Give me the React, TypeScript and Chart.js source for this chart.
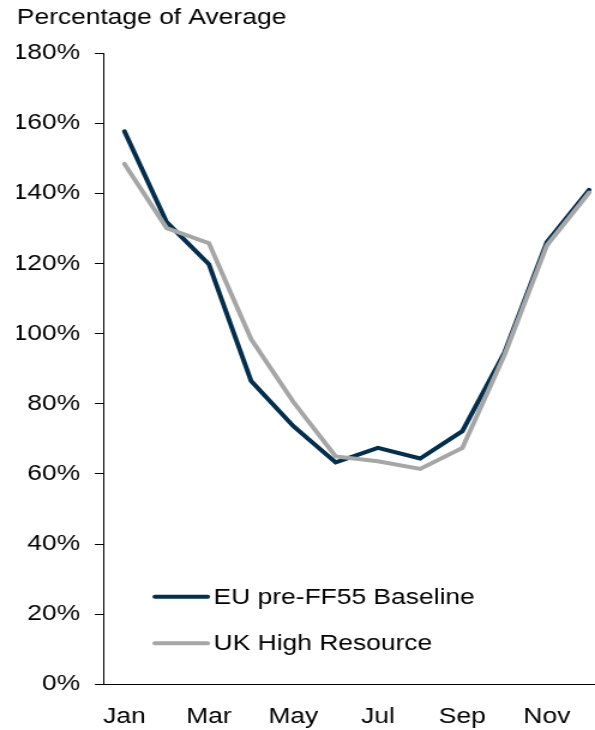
import React, { useEffect, useRef } from 'react';
import { Chart, registerables } from 'chart.js';

Chart.register(...registerables);

// ---- data ----
const months = ['Jan', 'Feb', 'Mar', 'Apr', 'May', 'Jun', 'Jul', 'Aug', 'Sep', 'Oct', 'Nov', 'Dec'];
const labelledMonthIdx = [0, 2, 4, 6, 8, 10];
const euBaseline = [157.7, 131.8, 119.8, 86.5, 73.6, 63.3, 67.4, 64.4, 72.2, 94.7, 126.1, 141.0];
const ukHighResource = [148.4, 130.1, 125.8, 98.4, 80.5, 65.0, 63.6, 61.4, 67.4, 94.0, 125.2, 140.2];
const seriesNames = ['EU pre-FF55 Baseline', 'UK High Resource'];
const yMin = 0;
const yMax = 180;
const yStep = 20;
const titleText = 'Percentage of Average';

// ---- presentation ----
const FONT = '"Liberation Sans", Arial, sans-serif';
const LOGICAL_W = 496;
const DISPLAY_W = 595;
const H = 730;
const DARK = '#032F4D';
const GREY = '#A6A6A6';

const insideLegend = {
  id: 'insideLegend',
  afterDraw(chart: any) {
    const { ctx, chartArea } = chart;
    ctx.save();
    ctx.font = `22px ${FONT}`;
    ctx.textBaseline = 'middle';
    ctx.textAlign = 'left';
    ctx.lineCap = 'round';
    chart.data.datasets.forEach((ds: any, i: number) => {
      const y = chartArea.bottom - 87.6 + i * 46.6;
      const x0 = chartArea.left + 43;
      ctx.strokeStyle = ds.borderColor;
      ctx.lineWidth = 4;
      ctx.beginPath();
      ctx.moveTo(x0, y);
      ctx.lineTo(x0 + 44, y);
      ctx.stroke();
      ctx.fillStyle = '#000';
      ctx.fillText(ds.label, x0 + 49, y + 1);
    });
    ctx.restore();
  },
};

export default function App() {
  const ref = useRef<HTMLCanvasElement | null>(null);

  useEffect(() => {
    if (!ref.current) return;
    Chart.defaults.font.family = FONT;
    const chart = new Chart(ref.current, {
      type: 'line',
      data: {
        datasets: [
          {
            label: seriesNames[0],
            data: months.map((_, i) => ({ x: i, y: euBaseline[i] })),
            borderColor: DARK,
            backgroundColor: DARK,
            borderWidth: 4,
            pointRadius: 0,
            tension: 0,
            borderCapStyle: 'round',
            order: 2,
          },
          {
            label: seriesNames[1],
            data: months.map((_, i) => ({ x: i, y: ukHighResource[i] })),
            borderColor: GREY,
            backgroundColor: GREY,
            borderWidth: 4,
            pointRadius: 0,
            tension: 0,
            borderCapStyle: 'round',
            order: 1,
          },
        ],
      },
      options: {
        animation: false,
        responsive: false,
        devicePixelRatio: 1,
        layout: { padding: { left: 14, right: 0, top: 0, bottom: 0 } },
        plugins: {
          legend: { display: false },
          tooltip: { enabled: false },
          title: {
            display: true,
            text: titleText,
            align: 'start',
            color: '#000',
            font: { size: 22, weight: 'normal', family: FONT },
            padding: { top: 5, bottom: 21.7 },
          },
        },
        scales: {
          x: {
            type: 'linear',
            min: -0.5,
            max: 11.14,
            afterBuildTicks: (scale: any) => {
              scale.ticks = labelledMonthIdx.map((v) => ({ value: v }));
            },
            afterFit: (scale: any) => {
              scale.height = 45.7;
            },
            ticks: {
              autoSkip: false,
              maxRotation: 0,
              color: '#000',
              padding: 19,
              font: { size: 22, family: FONT },
              callback: (v: any) => months[v as number] ?? '',
            },
            grid: { display: true, drawOnChartArea: false, drawTicks: false, color: '#000' },
            border: { display: true, color: '#000', width: 1 },
          },
          y: {
            min: yMin,
            max: yMax,
            afterFit: (scale: any) => {
              scale.width = 72.1;
            },
            ticks: {
              stepSize: yStep,
              color: '#000',
              padding: 12.4,
              font: { size: 22, family: FONT },
              callback: (v: any) => `${v}%`,
            },
            grid: { display: true, drawOnChartArea: false, drawTicks: true, tickLength: 7, color: '#000', lineWidth: 1 },
            border: { display: true, color: '#000', width: 1 },
          },
        },
      },
      plugins: [insideLegend],
    } as any);
    return () => chart.destroy();
  }, []);

  return (
    <div style={{ position: 'absolute', left: 0, top: 0, width: DISPLAY_W, height: H, background: '#fff' }}>
      <canvas
        ref={ref}
        width={LOGICAL_W}
        height={H}
        style={{ width: `${DISPLAY_W}px`, height: `${H}px`, display: 'block' }}
      />
    </div>
  );
}
